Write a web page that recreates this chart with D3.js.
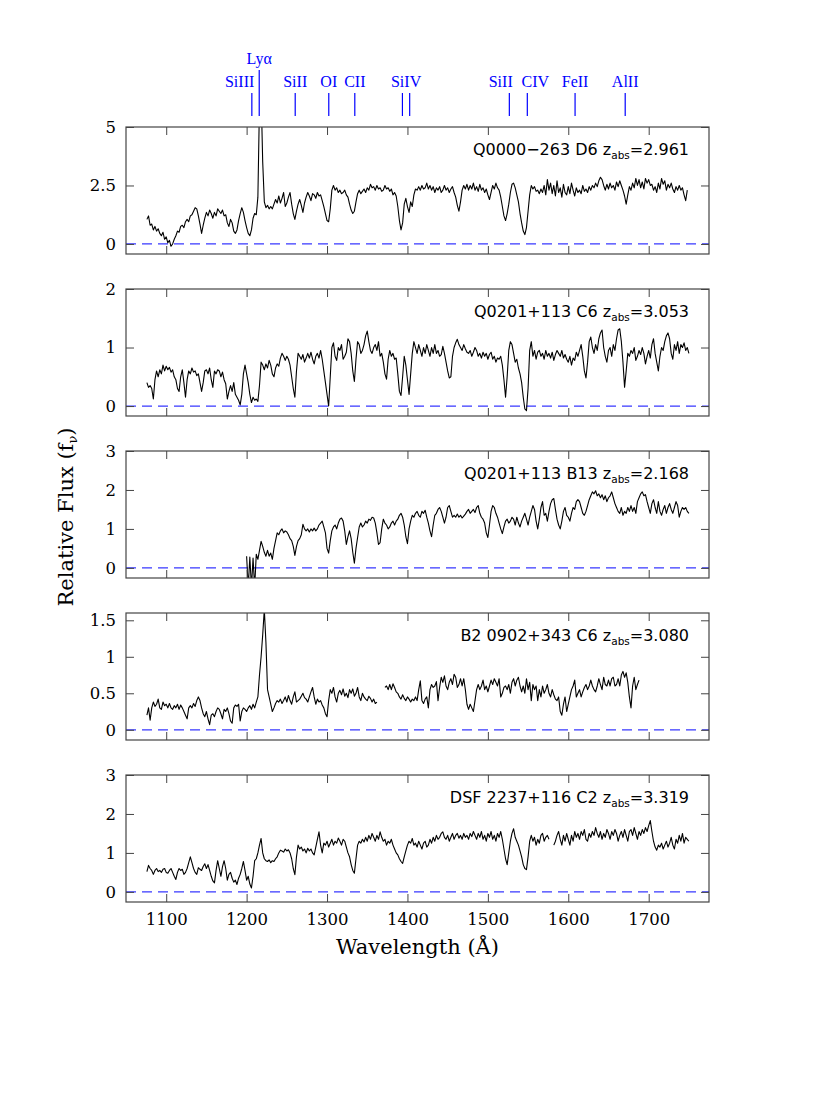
<!DOCTYPE html>
<html><head><meta charset="utf-8">
<script src="https://cdn.jsdelivr.net/npm/d3@7"></script>
<style>body{margin:0;background:#fff}</style>
</head><body>
<svg id="c" width="830" height="1106"></svg>
<script>
// ---- data (wavelength grid: start + i*step, Angstrom) ----
const waveStep = 2;
const waveStart = [1076, 1076, 1200, 1076, 1076];
const panelNames = ["Q0000\u2212263 D6", "Q0201+113 C6", "Q0201+113 B13", "B2 0902+343 C6", "DSF 2237+116 C2"];
const zAbs = ["2.961", "3.053", "2.168", "3.080", "3.319"];
const yMax = [5, 2, 3, 1.6, 3];
const yMin = [-0.43, -0.17, -0.26, -0.14, -0.26];
const yTicks = [[0, 2.5, 5], [0, 1, 2], [0, 1, 2, 3], [0, 0.5, 1, 1.5], [0, 1, 2, 3]];
const xTicks = [1100, 1200, 1300, 1400, 1500, 1600, 1700];
const xDomain = [1050, 1775];

const lineNames = ["SiIII", "Ly\u03b1", "SiII", "OI", "CII", "SiIV", "SiII", "CIV", "FeII", "AlII"];
const lineWaves = [[1206.5], [1215.67], [1260.42], [1302.17], [1334.53], [1393.76, 1402.77], [1526.71], [1549.06], [1608.45], [1670.79]];
const lineLabelWaves = [1191.3, 1215.67, 1260.42, 1302.17, 1334.53, 1398.3, 1516, 1559, 1608.45, 1670.79];

const fluxQ0000_D6 = [
1.05,1.2,0.8,0.85,0.6,0.75,0.55,0.65,0.45,0.35,
0.5,0.2,0.3,0.05,0.15,-0.1,0.0,0.2,0.35,0.55,
0.5,0.75,0.8,0.7,0.95,1.05,0.95,1.2,1.25,1.4,
1.55,1.5,1.2,0.85,0.45,0.8,1.1,1.35,1.2,1.45,
1.3,1.1,1.35,1.2,1.5,1.4,1.3,1.45,1.2,1.25,
0.9,0.75,1.05,0.9,0.55,0.45,0.6,1.0,1.3,1.55,
1.35,1.0,0.7,0.45,0.35,0.6,1.1,1.3,1.25,2.0,
6.0,6.5,3.5,1.8,1.55,1.65,1.5,1.6,1.5,1.7,
1.9,1.75,2.05,1.75,1.95,2.2,1.6,1.75,2.0,2.2,
1.7,1.3,1.05,1.4,1.7,1.9,1.65,1.35,1.75,2.0,
2.2,2.05,1.85,2.15,2.1,1.95,2.2,2.05,2.1,1.85,
1.6,1.3,1.0,0.95,1.5,2.3,2.5,2.3,2.4,2.2,
2.3,2.15,2.2,2.3,2.1,2.0,1.7,1.45,1.3,1.4,
1.8,2.15,2.3,2.15,2.25,2.35,2.2,2.4,2.3,2.55,
2.4,2.45,2.3,2.5,2.35,2.4,2.25,2.3,2.5,2.35,
2.4,2.25,2.35,2.1,2.2,2.05,1.6,1.0,0.6,0.9,
1.7,1.95,1.6,1.35,1.8,1.6,2.1,2.35,2.3,2.45,
2.3,2.5,2.35,2.4,2.6,2.35,2.5,2.3,2.45,2.2,
2.4,2.3,2.45,2.2,2.3,2.5,2.3,2.4,2.2,2.35,
2.45,2.2,2.0,1.65,1.4,1.8,2.3,2.5,2.35,2.55,
2.3,2.5,2.35,2.6,2.3,2.45,2.25,2.55,2.3,2.4,
2.2,2.35,2.1,1.9,2.2,2.5,2.35,2.6,2.4,2.3,
2.0,1.6,1.2,1.0,1.3,1.7,2.2,2.55,2.6,2.4,
2.1,1.8,1.3,0.9,0.55,0.4,0.7,1.4,2.1,2.5,
2.35,2.45,2.25,2.3,2.15,2.35,2.2,2.5,2.1,2.75,
2.3,2.6,2.15,2.5,2.05,2.7,2.2,2.4,2.0,2.55,
2.2,2.1,2.45,2.15,2.6,2.3,2.05,2.4,2.2,2.3,
2.15,2.5,2.25,2.35,2.2,2.45,2.3,2.5,2.4,2.6,
2.45,2.7,2.85,2.75,2.5,2.3,2.55,2.35,2.6,2.4,
2.5,2.3,2.65,2.45,2.7,2.5,2.3,2.05,1.7,2.1,
2.45,2.3,2.6,2.4,2.8,2.5,2.75,2.4,2.65,2.35,
2.8,2.6,2.75,2.5,2.55,2.3,2.45,2.2,2.6,2.35,
2.8,2.55,2.7,2.3,2.55,2.4,2.6,2.35,2.2,2.45,
2.3,2.5,2.3,2.4,2.1,1.85,2.3];

const fluxQ0201_C6 = [
0.4,0.32,0.35,0.3,0.12,0.45,0.6,0.5,0.62,0.55,
0.7,0.6,0.68,0.62,0.66,0.58,0.62,0.5,0.45,0.3,
0.25,0.5,0.62,0.4,0.15,0.45,0.6,0.55,0.65,0.58,
0.6,0.52,0.55,0.4,0.25,0.4,0.6,0.62,0.55,0.65,
0.45,0.32,0.6,0.55,0.62,0.6,0.5,0.58,0.45,0.38,
0.12,0.25,0.35,0.25,0.4,0.2,0.15,0.1,0.02,0.2,
0.55,0.7,0.55,0.4,0.2,0.06,0.15,0.1,0.12,0.08,
0.35,0.75,0.7,0.62,0.72,0.65,0.78,0.7,0.55,0.5,
0.65,0.72,0.68,0.82,0.9,0.85,0.78,0.85,0.8,0.7,
0.5,0.3,0.15,0.6,0.9,0.85,0.8,0.88,0.75,0.82,
0.9,0.82,0.92,0.8,0.72,0.85,0.9,0.82,0.95,0.8,
0.6,0.4,0.2,0.0,0.5,1.0,1.08,0.85,0.78,1.0,
0.95,1.05,0.8,0.85,0.92,1.15,1.1,0.9,0.6,0.42,
0.8,1.1,1.05,0.9,0.95,1.05,1.2,1.28,1.1,0.95,
0.9,1.0,1.05,0.95,1.1,0.85,0.9,0.75,0.55,0.46,
0.8,0.95,0.85,0.9,0.8,0.82,0.55,0.25,0.18,0.5,
0.85,0.7,0.45,0.2,0.55,0.9,1.1,1.0,0.9,1.05,
0.95,0.85,1.0,0.9,1.05,0.95,0.85,1.0,0.9,1.05,
0.9,0.95,0.85,0.88,1.02,0.9,0.75,0.6,0.48,0.5,
0.85,1.0,1.08,1.14,1.05,1.0,0.95,1.05,0.98,0.92,
0.9,0.95,0.85,0.92,1.0,0.95,0.85,0.9,0.82,0.92,
0.85,0.9,0.8,0.88,0.92,0.8,0.85,0.75,0.82,0.8,
0.85,0.7,0.45,0.15,0.5,0.95,1.1,1.05,0.9,0.75,
0.8,0.65,0.55,0.4,0.15,-0.05,-0.08,0.3,0.95,1.1,
0.85,0.95,0.8,0.92,0.95,0.85,0.9,0.8,0.95,0.85,
0.9,0.82,0.92,0.78,0.88,0.95,0.9,0.85,0.95,0.82,
0.88,0.8,0.75,0.85,0.7,0.82,0.78,0.92,0.85,0.95,
1.05,0.85,0.6,0.48,0.75,1.1,1.18,1.0,0.9,1.05,
0.95,1.15,1.25,1.3,1.0,0.85,0.75,0.95,1.0,0.85,
1.05,0.95,1.15,1.3,1.32,1.1,0.75,0.32,0.6,0.9,
0.85,0.95,0.9,1.0,0.78,0.85,0.95,0.88,1.0,0.9,
0.72,0.85,0.95,0.82,1.05,1.15,0.9,0.75,0.6,0.85,
1.0,0.95,1.1,1.2,1.25,1.15,0.9,0.8,1.05,0.95,
1.1,0.9,1.05,1.0,1.08,0.95,1.0,0.9];

const fluxQ0201_B13 = [
0.3,-0.5,0.28,-0.5,0.25,-0.5,0.35,0.22,0.45,0.68,
0.55,0.4,0.3,0.45,0.3,0.38,0.22,0.5,0.7,0.9,
0.85,0.95,1.0,0.9,0.95,0.92,0.85,0.75,0.7,0.55,
0.32,0.55,0.7,0.75,0.85,1.12,1.0,0.95,1.0,0.92,
1.0,0.95,1.02,0.95,1.0,1.1,1.15,1.2,1.05,0.9,
0.5,0.38,0.7,0.95,1.05,1.1,1.0,1.15,1.25,1.28,
1.2,0.95,0.6,0.8,0.95,0.75,0.4,0.12,0.5,0.78,
1.05,1.15,1.05,1.1,1.2,1.15,1.25,1.22,1.3,1.28,
1.15,0.9,0.6,0.65,1.0,1.25,1.15,1.1,1.0,1.05,
1.15,1.2,1.1,1.2,1.25,1.35,1.4,1.3,1.1,0.8,
0.62,1.0,1.2,1.35,1.3,1.4,1.45,1.35,1.3,1.45,
1.4,1.48,1.3,1.15,0.95,0.8,1.1,1.35,1.4,1.5,
1.55,1.45,1.3,1.15,1.3,1.55,1.6,1.45,1.3,1.35,
1.3,1.38,1.3,1.35,1.28,1.33,1.38,1.45,1.5,1.4,
1.45,1.5,1.42,1.55,1.6,1.4,1.3,1.25,1.15,0.9,
0.78,1.1,1.45,1.6,1.55,1.4,1.3,1.15,1.0,0.88,
1.05,1.2,1.25,1.15,1.2,1.3,1.25,1.1,1.3,1.15,
1.05,1.2,1.3,1.4,1.25,1.1,1.3,1.45,1.6,1.5,
1.2,1.0,1.25,1.55,1.7,1.35,1.4,1.2,1.45,1.65,
1.75,1.78,1.5,1.25,1.1,1.0,1.2,1.45,1.55,1.35,
1.3,1.2,1.4,1.55,1.5,1.7,1.75,1.7,1.55,1.4,
1.35,1.45,1.6,1.75,1.85,1.95,1.9,1.98,1.85,1.9,
1.8,1.88,1.75,1.85,1.7,1.8,1.85,1.95,1.8,1.65,
1.55,1.45,1.4,1.55,1.35,1.45,1.4,1.55,1.45,1.6,
1.45,1.55,1.4,1.7,1.8,1.9,1.95,1.85,1.88,1.7,
1.55,1.4,1.65,1.75,1.55,1.4,1.7,1.45,1.35,1.5,
1.6,1.4,1.55,1.65,1.5,1.4,1.55,1.7,1.6,1.3,
1.45,1.55,1.5,1.55,1.45,1.4];

const fluxB2_0902_C6 = [
0.2,0.3,0.13,0.3,0.38,0.32,0.35,0.42,0.3,0.28,
0.38,0.33,0.35,0.3,0.36,0.3,0.28,0.33,0.3,0.35,
0.28,0.34,0.3,0.25,0.2,0.15,0.3,0.33,0.3,0.36,
0.32,0.4,0.45,0.4,0.3,0.22,0.18,0.25,0.15,0.07,
0.2,0.22,0.18,0.25,0.3,0.28,0.22,0.15,0.28,0.25,
0.3,0.22,0.12,0.09,0.3,0.34,0.32,0.35,0.12,0.25,
0.3,0.28,0.25,0.3,0.33,0.28,0.35,0.3,0.38,0.45,
0.75,1.0,1.3,1.65,1.2,0.55,0.45,0.35,0.25,0.3,
0.36,0.4,0.38,0.42,0.36,0.4,0.45,0.38,0.47,0.4,
0.35,0.45,0.52,0.38,0.4,0.42,0.46,0.5,0.44,0.42,
0.38,0.45,0.52,0.58,0.45,0.35,0.42,0.38,0.4,0.34,
0.3,0.22,0.18,0.4,0.55,0.5,0.58,0.45,0.38,0.5,
0.54,0.48,0.56,0.46,0.5,0.44,0.55,0.5,0.56,0.46,
0.5,0.58,0.45,0.4,0.5,0.45,0.42,0.4,0.46,0.43,
0.38,0.42,0.36,0.38,null,null,null,null,0.58,0.6,
0.55,0.62,0.55,0.63,0.58,0.52,0.5,0.45,0.42,0.48,
0.43,0.4,0.45,0.42,0.38,0.42,0.4,0.45,0.4,0.55,
0.67,0.4,0.36,0.42,0.45,0.3,0.55,0.62,0.58,0.6,
0.66,0.4,0.58,0.72,0.65,0.74,0.6,0.55,0.65,0.7,
0.62,0.76,0.72,0.58,0.62,0.7,0.6,0.7,0.55,0.35,
0.28,0.35,0.3,0.25,0.4,0.55,0.62,0.55,0.6,0.68,
0.55,0.6,0.52,0.6,0.68,0.62,0.7,0.65,0.6,0.7,
0.45,0.5,0.58,0.6,0.55,0.62,0.5,0.65,0.7,0.6,
0.68,0.72,0.6,0.52,0.6,0.5,0.7,0.55,0.65,0.4,
0.62,0.55,0.6,0.4,0.55,0.45,0.6,0.5,0.55,0.62,
0.5,0.45,0.55,0.48,0.42,0.4,0.45,0.25,0.2,0.35,
0.45,0.25,0.35,0.45,0.55,0.6,0.68,0.45,0.5,0.55,
0.45,0.52,0.58,0.62,0.55,0.6,0.68,0.6,0.55,0.52,
0.6,0.7,0.62,0.55,0.72,0.62,0.6,0.68,0.6,0.7,
0.72,0.6,0.62,0.7,0.6,0.75,0.8,0.72,0.78,0.65,
0.45,0.3,0.6,0.72,0.55,0.62,0.68];

const fluxDSF2237_C2 = [
0.52,0.68,0.6,0.55,0.45,0.55,0.6,0.52,0.55,0.5,
0.58,0.6,0.5,0.48,0.55,0.6,0.5,0.4,0.32,0.5,
0.6,0.55,0.58,0.45,0.5,0.6,0.75,0.9,0.75,0.6,
0.5,0.45,0.62,0.58,0.55,0.65,0.72,0.6,0.7,0.55,
0.4,0.28,0.23,0.55,0.8,0.6,0.4,0.65,0.8,0.6,
0.3,0.45,0.5,0.35,0.25,0.3,0.19,0.35,0.45,0.6,
0.78,0.55,0.3,0.4,0.2,0.1,0.4,0.8,0.85,1.0,
1.2,1.37,1.0,0.85,0.8,0.78,0.82,0.75,0.8,0.78,
0.85,0.9,1.0,1.07,1.05,1.02,1.1,1.05,1.08,1.0,
0.85,0.6,0.44,0.9,1.2,1.1,1.15,1.05,1.1,1.0,
1.12,1.05,1.1,1.0,0.95,1.15,1.35,1.54,1.2,1.0,
1.25,1.2,1.3,1.15,1.25,1.35,1.2,1.3,1.25,1.38,
1.3,1.2,1.35,1.3,1.15,1.0,0.9,0.7,0.55,0.48,
0.85,1.2,1.3,1.25,1.35,1.28,1.4,1.3,1.45,1.35,
1.5,1.4,1.3,1.45,1.35,1.54,1.4,1.3,1.35,1.2,
1.3,1.25,1.35,1.2,1.1,1.0,0.95,0.85,0.78,0.73,
0.9,1.05,1.2,1.3,1.25,1.37,1.2,1.25,1.15,1.3,
1.2,1.1,1.25,1.3,1.15,1.2,1.35,1.25,1.4,1.3,
1.45,1.35,1.4,1.5,1.54,1.4,1.35,1.45,1.3,1.4,
1.5,1.35,1.45,1.5,1.38,1.45,1.35,1.5,1.4,1.45,
1.35,1.5,1.42,1.55,1.45,1.35,1.5,1.4,1.55,1.35,
1.45,1.3,1.5,1.4,1.55,1.35,1.45,1.3,1.5,1.4,
1.55,1.35,1.1,0.85,0.7,1.0,1.3,1.5,1.62,1.4,
1.3,1.2,1.05,0.9,0.7,0.6,0.57,0.9,1.3,1.45,
1.3,1.4,1.2,1.35,1.25,1.45,1.5,1.3,1.4,1.45,
1.35,null,null,1.2,1.3,1.45,1.55,1.35,1.2,1.45,
1.3,1.5,1.35,1.2,1.45,1.3,1.55,1.4,1.5,1.35,
1.55,1.45,1.6,1.35,1.3,1.5,1.4,1.55,1.45,1.65,
1.5,1.4,1.55,1.35,1.5,1.4,1.6,1.5,1.35,1.55,
1.45,1.6,1.5,1.3,1.45,1.55,1.4,1.6,1.45,1.3,
1.55,1.6,1.45,1.65,1.5,1.35,1.55,1.45,1.6,1.5,
1.65,1.55,1.7,1.83,1.55,1.3,1.15,1.07,1.2,1.15,
1.25,1.1,1.2,1.3,1.15,1.25,1.4,1.2,1.1,1.35,
1.25,1.45,1.3,1.5,1.25,1.4,1.35,1.3];

const fluxes = [fluxQ0000_D6, fluxQ0201_C6, fluxQ0201_B13, fluxB2_0902_C6, fluxDSF2237_C2];

// ---- layout ----
const plotLeft = 126, plotRight = 709;
const panelTop = [127, 289, 451, 613, 775];
const panelH = 127;
const tickLen = 8;
const blue = "#0000ff";
const frameColor = "#444";

const svg = d3.select("#c");
const x = d3.scaleLinear().domain(xDomain).range([plotLeft, plotRight]);

// ---- line identification markers ----
const mk = svg.append("g");
lineNames.forEach((name, i) => {
  const isLya = name.startsWith("Ly");
  lineWaves[i].forEach(w => {
    mk.append("line")
      .attr("x1", x(w)).attr("x2", x(w))
      .attr("y1", isLya ? 70 : 93).attr("y2", 116)
      .attr("stroke", blue).attr("stroke-width", 1.2);
  });
  mk.append("text")
    .attr("x", x(lineLabelWaves[i]))
    .attr("y", isLya ? 64 : 87)
    .attr("text-anchor", "middle")
    .attr("font-family", "'Liberation Serif', serif")
    .attr("font-size", 16)
    .attr("fill", blue)
    .text(name);
});

// ---- panels ----
fluxes.forEach((flux, k) => {
  const top = panelTop[k], bot = top + panelH;
  const y = d3.scaleLinear().domain([yMin[k], yMax[k]]).range([bot, top]);
  const g = svg.append("g");
  const clipId = "clip" + k;
  svg.append("clipPath").attr("id", clipId)
    .append("rect").attr("x", plotLeft).attr("y", top)
    .attr("width", plotRight - plotLeft).attr("height", panelH);

  // zero line
  g.append("line")
    .attr("x1", plotLeft).attr("x2", plotRight)
    .attr("y1", y(0)).attr("y2", y(0))
    .attr("stroke", "#3838ff").attr("stroke-width", 1.3)
    .attr("stroke-dasharray", "10,6");

  // spectrum
  const pts = flux.map((v, i) => ({ w: waveStart[k] + i * waveStep, f: v }));
  const line = d3.line().defined(d => d.f !== null).x(d => x(d.w)).y(d => y(d.f));
  g.append("path").datum(pts)
    .attr("clip-path", `url(#${clipId})`)
    .attr("d", line)
    .attr("fill", "none").attr("stroke", "#000").attr("stroke-width", 1.1)
    .attr("stroke-linejoin", "round");

  // axes (inward ticks)
  const styleAxis = sel => {
    sel.select(".domain").remove();
    sel.selectAll(".tick line").attr("stroke", frameColor).attr("stroke-width", 1);
    sel.selectAll(".tick text").attr("fill", "#000")
      .attr("font-family", "'DejaVu Serif', serif").attr("font-size", 16.5);
  };
  g.append("g").attr("transform", `translate(${plotLeft},0)`)
    .call(d3.axisLeft(y).tickValues(yTicks[k]).tickSize(-tickLen).tickPadding(10)
      .tickFormat(d3.format("~g")))
    .call(styleAxis);
  g.append("g").attr("transform", `translate(${plotRight},0)`)
    .call(d3.axisRight(y).tickValues(yTicks[k]).tickSize(-tickLen).tickFormat(""))
    .call(styleAxis);
  g.append("g").attr("transform", `translate(0,${top})`)
    .call(d3.axisTop(x).tickValues(xTicks).tickSize(-tickLen).tickFormat(""))
    .call(styleAxis);
  g.append("g").attr("transform", `translate(0,${bot})`)
    .call(d3.axisBottom(x).tickValues(xTicks).tickSize(-tickLen).tickPadding(11)
      .tickFormat(k === fluxes.length - 1 ? d3.format("d") : ""))
    .call(styleAxis);

  // frame
  g.append("rect").attr("x", plotLeft).attr("y", top)
    .attr("width", plotRight - plotLeft).attr("height", panelH)
    .attr("fill", "none").attr("stroke", frameColor).attr("stroke-width", 1.2);

  // label
  const t = g.append("text")
    .attr("x", 689).attr("y", top + 28)
    .attr("text-anchor", "end")
    .attr("font-family", "'DejaVu Sans', sans-serif")
    .attr("font-size", 16).attr("fill", "#000");
  t.append("tspan").text(panelNames[k] + " z");
  t.append("tspan").attr("font-size", 10.5).attr("dy", 4).text("abs");
  t.append("tspan").attr("dy", -4).text("=" + zAbs[k]);
});

// ---- axis titles ----
svg.append("text")
  .attr("x", (plotLeft + plotRight) / 2).attr("y", 954)
  .attr("text-anchor", "middle")
  .attr("font-family", "'DejaVu Serif', serif").attr("font-size", 21)
  .text("Wavelength (\u00c5)");

const yt = svg.append("text")
  .attr("transform", "translate(73,517) rotate(-90)")
  .attr("text-anchor", "middle")
  .attr("font-family", "'DejaVu Serif', serif").attr("font-size", 21);
yt.append("tspan").text("Relative Flux (f");
yt.append("tspan").attr("font-size", 13).attr("dy", 4).text("\u03bd");
yt.append("tspan").attr("dy", -4).text(")");
</script>
</body></html>
